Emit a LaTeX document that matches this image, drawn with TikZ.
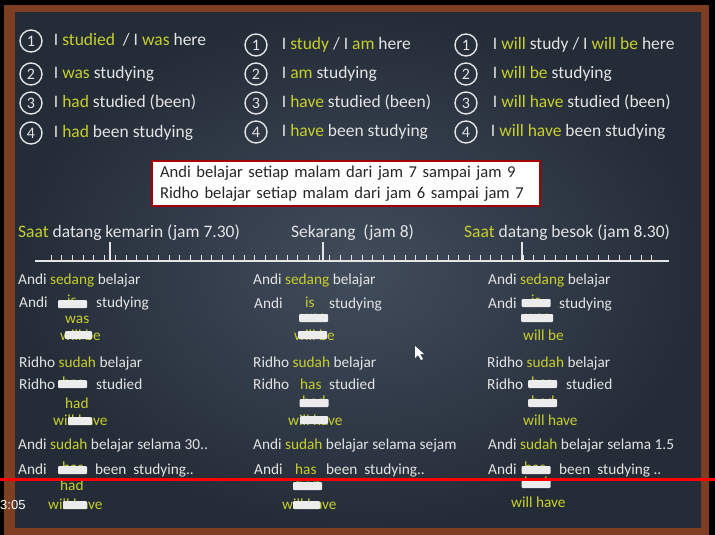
\documentclass[tikz,border=0pt]{standalone}
\usepackage{fontspec}
\setmainfont{Carlito}
\newfontfamily\playerfont{Liberation Sans}
\usetikzlibrary{positioning,calc}
\definecolor{board}{HTML}{242C37}
\definecolor{boardlight}{HTML}{414C5C}
\definecolor{chalk}{HTML}{E4E4E4}
\definecolor{chalkyellow}{HTML}{C8CF2C}
\definecolor{woodframe}{HTML}{7E3E22}
\newcommand{\hl}[1]{\textcolor{chalkyellow}{#1}}

\begin{document}
\begin{tikzpicture}[x=1pt, y=-1pt,
        numcirc/.style={draw=chalk, circle, line width=1.4pt, minimum size=22pt, inner sep=0pt, text=chalk, font=\fontsize{16}{18}\selectfont},
        big/.style={text=chalk, anchor=west, inner sep=0pt, text height=1.9ex, text depth=0pt, font=\fontsize{17.5}{20}\selectfont},
        small/.style={text=chalk, anchor=west, inner sep=0pt, text height=1.9ex, text depth=0pt, font=\fontsize{15.3}{18}\selectfont},
        yel/.style={small, text=chalkyellow},
        smear/.style={fill=white!85!gray, minimum width=29pt, minimum height=8pt, inner sep=0pt, rounded corners=1pt},
        tick/.style={draw=chalk, line width=1.2pt}
    ]
        % board and frame
        \useasboundingbox (0,0) rectangle (715,535);
        \fill[black] (0,0) rectangle (715,535);
        \fill[woodframe] (4,5) rectangle (709,535);
        \shade[inner color=boardlight, outer color=board] (15,13) rectangle (701,527);

        % past tenses
        \node[numcirc] (p1) at (31,41) {1};
        \node[numcirc] (p2) at (31,74) {2};
        \node[numcirc] (p3) at (31,103) {3};
        \node[numcirc] (p4) at (31,133) {4};
        \node[big, right=11pt of p1] (tp1) {I \hl{studied} \ / I \hl{was} here};
        \node[big, right=11pt of p2] (tp2) {I \hl{was} studying};
        \node[big, right=11pt of p3] (tp3) {I \hl{had} studied (been)};
        \node[big, right=11pt of p4] (tp4) {I \hl{had} been studying};

        % present tenses
        \node[numcirc] (n1) at (256,45) {1};
        \node[numcirc] (n2) at (256,74) {2};
        \node[numcirc] (n3) at (256,103) {3};
        \node[numcirc] (n4) at (256,132) {4};
        \node[big, right=14pt of n1] (tn1) {I \hl{study} / I \hl{am} here};
        \node[big, right=14pt of n2] (tn2) {I \hl{am} studying};
        \node[big, right=14pt of n3] (tn3) {I \hl{have} studied (been)};
        \node[big, right=14pt of n4] (tn4) {I \hl{have} been studying};

        % future tenses
        \node[numcirc] (f1) at (466,45) {1};
        \node[numcirc] (f2) at (466,74) {2};
        \node[numcirc] (f3) at (466,103) {3};
        \node[numcirc] (f4) at (466,132) {4};
        \node[big, right=15pt of f1] (tf1) {I \hl{will} study / I \hl{will be} here};
        \node[big, right=15pt of f2] (tf2) {I \hl{will be} studying};
        \node[big, right=15pt of f3] (tf3) {I \hl{will have} studied (been)};
        \node[big, right=13pt of f4] (tf4) {I \hl{will have} been studying};

        % the facts
        \node[draw=red!65!black, fill=white, line width=1.5pt, text=black!85, align=left,
              text width=372pt, inner xsep=8pt, inner ysep=5pt,
              font=\fontsize{16.6}{21}\selectfont] (fact) at (346,183.5)
              {Andi belajar setiap malam dari jam 7 sampai jam 9\\Ridho belajar setiap malam dari jam 6 sampai jam 7};

        % timeline
        \node[big] (kemarin) at (18,233) {\hl{Saat} datang kemarin (jam 7.30)};
        \node[big] (sekarang) at (291,233) {Sekarang \ (jam 8)};
        \node[big] (besok) at (464,233) {\hl{Saat} datang besok (jam 8.30)};
        \coordinate (tl0) at (35,261);
        \coordinate (tl1) at (669,261);
        \draw[tick] (tl0) -- (tl1);
        \foreach \i in {0,...,56}
            \draw[tick, line width=1pt] (51+\i*10.73,261) -- ++(0,-6);
        \foreach \x in {110,323,522}
            \draw[tick] (\x,261) -- (\x,242);

        % past column
        \node[small] (pa1) at (18,280) {Andi \hl{sedang} belajar};
        \node[small] (pa2) at (19,303) {Andi};
        \node[yel] at (67,301) {is};
        \node[smear] at (72.5,304) {};
        \node[small] (pa3) at (96,303) {studying};
        \node[yel] (pa4) at (65,319) {was};
        \node[yel] (pa5) at (60,336) {will be};
        \node[smear, minimum width=27pt] at (78.5,335) {};
        \node[small] (pr1) at (19,363) {Ridho \hl{sudah} belajar};
        \node[small] (pr2) at (19,385) {Ridho};
        \node[yel] at (62,383) {has};
        \node[smear] at (72.5,384) {};
        \node[small] (pr3) at (96,385) {studied};
        \node[yel] (pr4) at (65,404) {had};
        \node[yel] (pr5) at (53,421) {will have};
        \node[smear, minimum width=24pt] at (80,421) {};
        \node[small] (ps1) at (18,445) {Andi \hl{sudah} belajar selama 30..};
        \node[small] (ps2) at (18,470) {Andi};
        \node[yel] at (62,468) {has};
        \node[smear] at (72.5,470) {};
        \node[small] (ps3) at (95,470) {been \ studying..};
        \node[yel] (ps4) at (60,486) {had};
        \node[yel] (ps5) at (48,505) {will have};
        \node[smear, minimum width=24pt] at (75,505) {};

        % present column
        \node[small] (na1) at (253,280) {Andi \hl{sedang} belajar};
        \node[small] (na2) at (254,304) {Andi};
        \node[yel] (na3) at (305,303) {is};
        \node[small] (na4) at (329,304) {studying};
        \node[yel] at (301,317) {was};
        \node[smear] at (313.5,318) {};
        \node[yel] (na5) at (294,336) {will be};
        \node[smear] at (312.5,335) {};
        \node[small] (nr1) at (253,363) {Ridho \hl{sudah} belajar};
        \node[small] (nr2) at (253,385) {Ridho};
        \node[yel] (nr3) at (300,385) {has};
        \node[small] (nr4) at (329,385) {studied};
        \node[yel] at (302,402) {had};
        \node[smear] at (314,403) {};
        \node[yel] (nr5) at (288,421) {will have};
        \node[smear, minimum width=28pt] at (314,420) {};
        \node[small] (ns1) at (253,445) {Andi \hl{sudah} belajar selama sejam};
        \node[small] (ns2) at (254,470) {Andi};
        \node[yel] (ns3) at (295,470) {has};
        \node[small] (ns4) at (326,470) {been \ studying..};
        \node[yel] at (296,485) {had};
        \node[smear] at (307.5,486) {};
        \node[yel] (ns5) at (282,505) {will have};
        \node[smear, minimum width=27pt] at (306.5,505) {};

        % future column
        \node[small] (fa1) at (488,280) {Andi \hl{sedang} belajar};
        \node[small] (fa2) at (488,304) {Andi};
        \node[yel] at (531,301) {is};
        \node[smear] at (536,303) {};
        \node[small] (fa3) at (559,304) {studying};
        \node[yel] at (525,317) {was};
        \node[smear, minimum width=32pt] at (537,318) {};
        \node[yel] (fa4) at (523,336) {will be};
        \node[small] (fr1) at (487,363) {Ridho \hl{sudah} belajar};
        \node[small] (fr2) at (487,385) {Ridho};
        \node[yel] at (531,383) {has};
        \node[smear] at (542.5,384) {};
        \node[small] (fr3) at (566,385) {studied};
        \node[yel] at (531,402) {had};
        \node[smear] at (542.5,403) {};
        \node[yel] (fr4) at (523,421) {will have};
        \node[small] (fs1) at (488,445) {Andi \hl{sudah} belajar selama 1.5};
        \node[small] (fs2) at (488,470) {Andi};
        \node[yel] at (524,468) {has};
        \node[smear] at (536,470) {};
        \node[small] (fs3) at (559,470) {been \ studying ..};
        \node[yel] at (524,483) {had};
        \node[smear] at (536,484) {};
        \node[yel] (fs4) at (511,503) {will have};

        % mouse pointer
        \fill[white] (415,346) -- ++(0,12) -- ++(3,-3) -- ++(3,5) -- ++(2,-1) -- ++(-3,-5) -- ++(4,0) -- cycle;

        % video player bar
        \draw[red, line width=3pt] (0,479) -- (715,479);
        \node[anchor=west, inner sep=0pt, text=white, font=\playerfont\fontsize{13}{15}\selectfont] (clock) at (0,505) {3:05};
\end{tikzpicture}
\end{document}
